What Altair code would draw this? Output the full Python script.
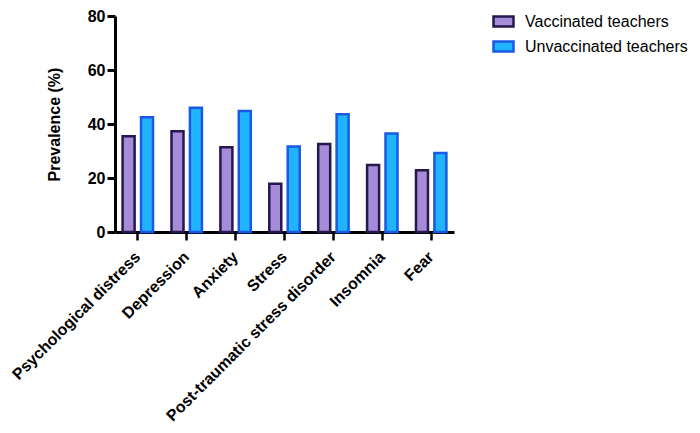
import altair as alt
import pandas as pd

categories = ["Psychological distress", "Depression", "Anxiety", "Stress",
              "Post-traumatic stress disorder", "Insomnia", "Fear"]
groups = ["Vaccinated teachers", "Unvaccinated teachers"]
vaccinated = [35.5, 37.3, 31.4, 17.9, 32.6, 24.8, 22.9]
unvaccinated = [42.5, 46.0, 44.8, 31.7, 43.6, 36.5, 29.3]
y_ticks = [0, 20, 40, 60, 80]
fill_colors = ["#a68bd9", "#20b4ff"]
stroke_colors = ["#26174c", "#1a58e6"]

rows = []
for c, v, u in zip(categories, vaccinated, unvaccinated):
    rows.append({"category": c, "group": groups[0], "value": v})
    rows.append({"category": c, "group": groups[1], "value": u})
df = pd.DataFrame(rows)

FONT = "Liberation Sans"

legend = alt.Legend(
    title=None, orient="none", legendX=377, legendY=-6, padding=0,
    symbolType="M-1,-0.5H1V0.5H-1Z", symbolSize=400, symbolStrokeWidth=2.5,
    symbolOpacity=1, labelOffset=10, rowPadding=3, labelLimit=400,
    labelFont=FONT, labelFontSize=16, labelColor="black",
)

chart = alt.Chart(df).mark_bar(strokeWidth=2.5, opacity=1).encode(
    x=alt.X("category:N", sort=categories,
            scale=alt.Scale(paddingInner=0.247, paddingOuter=0.09),
            axis=alt.Axis(title=None, labelAngle=-45, labelAlign="right",
                          labelBaseline="middle", labelPadding=14,
                          labelFont=FONT, labelFontSize=16, labelFontWeight="bold",
                          labelColor="black", tickSize=8, tickWidth=2.5,
                          tickColor="black", domainColor="black", domainWidth=3,
                          labelLimit=400)),
    xOffset=alt.XOffset("group:N", sort=groups,
                        scale=alt.Scale(paddingInner=0.348, paddingOuter=0.174)),
    y=alt.Y("value:Q", scale=alt.Scale(domain=[0, 80], nice=False),
            axis=alt.Axis(values=y_ticks, title="Prevalence (%)", grid=False,
                          titleFont=FONT, titleFontSize=16, titleFontWeight="bold",
                          titleColor="black", titlePadding=25,
                          labelFont=FONT, labelFontSize=16, labelFontWeight="bold",
                          labelColor="black", labelPadding=2,
                          tickSize=8, tickWidth=3, tickColor="black",
                          domainColor="black", domainWidth=3)),
    fill=alt.Fill("group:N", sort=groups,
                  scale=alt.Scale(domain=groups, range=fill_colors), legend=legend),
    stroke=alt.Stroke("group:N", sort=groups,
                      scale=alt.Scale(domain=groups, range=stroke_colors), legend=legend),
).properties(
    width=339, height=216,
    padding={"left": 107, "top": 8, "right": 238, "bottom": 193},
    autosize=alt.AutoSizeParams(type="none"),
).configure_view(stroke=None)

chart.save("out.html", embed_options={"renderer": "svg", "actions": False})
